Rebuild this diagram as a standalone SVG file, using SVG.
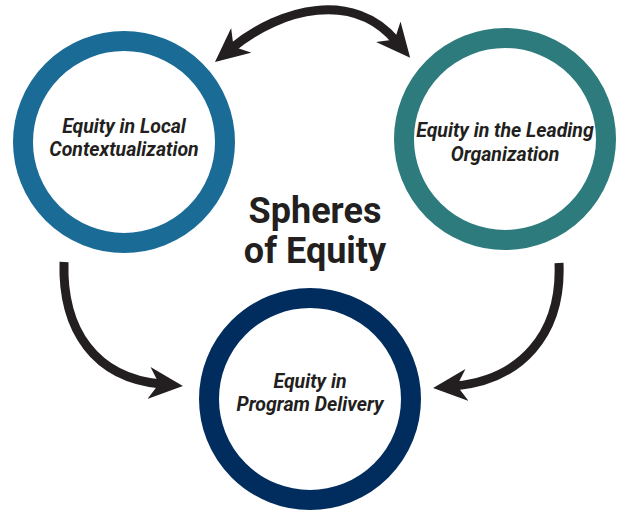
<svg xmlns="http://www.w3.org/2000/svg" width="621" height="510" viewBox="0 0 621 510">
<defs>
<style>
.ring{fill:#fff;stroke-width:20}
.lbl{font-family:Roboto,"Liberation Sans",sans-serif;font-style:italic;font-weight:bold;font-size:19.5px;fill:#231f20;text-anchor:middle}
.title{font-family:Roboto,"Liberation Sans",sans-serif;font-weight:bold;font-size:36px;fill:#231f20;text-anchor:middle}
.arc{fill:none;stroke:#231f20;stroke-width:9}
</style>
<marker id="head" viewBox="0 0 34 32" markerWidth="34" markerHeight="32" refX="12" refY="16" orient="auto-start-reverse" markerUnits="userSpaceOnUse">
<path d="M34,16 L0,0 L10,16 L0,32 Z" fill="#231f20"/>
</marker>
</defs>
<rect width="621" height="510" fill="#fff"/>
<g id="connectors">
<path class="arc" d="M232,48 C282,7 354,-9 396,41" marker-start="url(#head)" marker-end="url(#head)"/>
<path class="arc" d="M64,262 C62,330 95,378 161,384" marker-end="url(#head)"/>
<path class="arc" d="M559,263 C562,335 520,380 455,386" marker-end="url(#head)"/>
</g>
<g id="local">
<circle class="ring" cx="124" cy="142" r="101" stroke="#1a6b96"/>
<text class="lbl" x="124" y="133">Equity in Local</text>
<text class="lbl" x="124" y="156">Contextualization</text>
</g>
<g id="leading">
<circle class="ring" cx="505" cy="139" r="101" stroke="#2e7b7e"/>
<text class="lbl" x="505" y="137">Equity in the Leading</text>
<text class="lbl" x="505" y="161">Organization</text>
</g>
<g id="delivery">
<circle class="ring" cx="310" cy="399" r="101" stroke="#002d5e"/>
<text class="lbl" x="310" y="388">Equity in</text>
<text class="lbl" x="310" y="411">Program Delivery</text>
</g>
<g id="title">
<text class="title" x="315" y="223">Spheres</text>
<text class="title" x="315" y="263">of Equity</text>
</g>
</svg>
